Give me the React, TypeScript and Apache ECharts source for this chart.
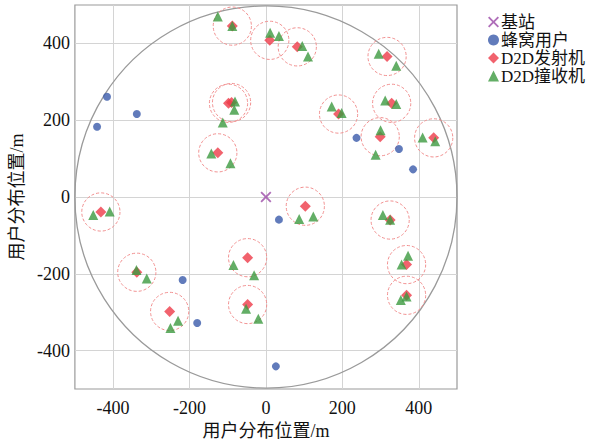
import React, { useEffect, useRef } from "react";
import * as echarts from "echarts";

const tickValues = [-400, -200, 0, 200, 400];
const baseStation = [[0, 0]];
const cellularUsers = [
  [-416, 261], [-338, 216], [-442, 183], [237, 154], [348, 125], [385, 72],
  [34, -59], [-218, -216], [-180, -328], [26, -441],
];
const d2dTx = [
  [-88, 445], [10, 408], [82, 391], [317, 366], [-98, 244], [-90, 246],
  [-126, 115], [190, 216], [329, 244], [299, 157], [439, 154], [-432, -39],
  [103, -24], [325, -60], [-338, -196], [-48, -158], [368, -176], [-252, -298],
  [-48, -280], [368, -256],
];
const d2dRx = [
  [-126, 470], [-88, 445], [11, 428], [34, 419], [95, 393], [110, 366],
  [295, 373], [341, 342], [-81, 249], [-83, 227], [-113, 194], [-143, 113],
  [-93, 88], [172, 236], [198, 219], [312, 251], [341, 242], [300, 174],
  [287, 110], [410, 155], [443, 145], [-452, -47], [-409, -38], [87, -57],
  [124, -51], [306, -47], [325, -59], [-339, -190], [-312, -212], [-85, -177],
  [-31, -204], [372, -153], [355, -176], [-230, -322], [-250, -341], [-52, -291],
  [-20, -317], [353, -268], [368, -259],
];
const d2dRadius = 50;
const cellRadius = 500;

const FONT = '"Liberation Serif", "Times New Roman", "Noto Sans CJK SC", serif';
const X_PATH =
  "path://M0,1.2 L1.2,0 L5,3.8 L8.8,0 L10,1.2 L6.2,5 L10,8.8 L8.8,10 L5,6.2 L1.2,10 L0,8.8 L3.8,5 Z";

export default function App() {
  const ref = useRef<HTMLDivElement>(null);
  useEffect(() => {
    if (!ref.current) return;
    const chart = echarts.init(ref.current, null, { renderer: "svg" });
    const circleRender = (stroke: string, dash: number[] | null, lw: number) =>
      (params: any, api: any) => {
        const c = api.coord([api.value(0), api.value(1)]);
        const s = api.size([api.value(2), api.value(2)]);
        return {
          type: "circle",
          shape: { cx: c[0], cy: c[1], r: s[0] },
          style: { fill: "none", stroke, lineWidth: lw, lineDash: dash || undefined },
          silent: true,
        };
      };
    const axisCommon = {
      type: "value",
      min: -500,
      max: 500,
      axisLine: { show: false },
      axisTick: { show: false, customValues: tickValues },
      splitLine: { show: true, lineStyle: { color: "#d4d4d4", width: 1 } },
      nameTextStyle: { fontFamily: FONT, fontSize: 18, color: "#111" },
    };
    chart.setOption({
      animation: false,
      backgroundColor: "#fff",
      grid: {
        left: 68,
        right: 150,
        top: 5,
        bottom: 53,
        show: true,
        borderColor: "#9a9a9a",
        borderWidth: 1.2,
      },
      legend: {
        orient: "vertical",
        left: 483,
        top: 8,
        itemWidth: 11,
        itemHeight: 11,
        itemGap: 0,
        data: ["基站", "蜂窝用户", "D2D发射机", "D2D撞收机"],
        textStyle: {
          fontFamily: FONT,
          fontSize: 17,
          lineHeight: 18,
          color: "#111",
          padding: [0, 0, 0, -3],
        },
      },
      xAxis: {
        ...axisCommon,
        name: "用户分布位置/m",
        nameLocation: "middle",
        nameGap: 33,
        axisLabel: {
          customValues: tickValues,
          fontFamily: FONT,
          fontSize: 18,
          color: "#111",
          margin: 10,
        },
      },
      yAxis: {
        ...axisCommon,
        name: "用户分布位置/m",
        nameLocation: "middle",
        nameGap: 30,
        axisLabel: {
          customValues: tickValues,
          fontFamily: FONT,
          fontSize: 18,
          color: "#111",
          margin: 5,
        },
      },
      series: [
        {
          type: "custom",
          name: "小区",
          data: [[0, 0, cellRadius]],
          renderItem: circleRender("#9a9a9a", null, 1.3),
          z: 1,
          silent: true,
        },
        {
          type: "custom",
          name: "D2D范围",
          data: d2dTx.map((p) => [p[0], p[1], d2dRadius]),
          renderItem: circleRender("#f29090", [3, 2], 1),
          z: 2,
          silent: true,
        },
        {
          type: "scatter",
          name: "基站",
          data: baseStation,
          symbol: X_PATH,
          symbolSize: 11,
          itemStyle: { color: "#9b4aa8" },
          z: 5,
        },
        {
          type: "scatter",
          name: "蜂窝用户",
          data: cellularUsers,
          symbol: "circle",
          symbolSize: 8,
          itemStyle: { color: "#3a5aaa" },
          z: 5,
        },
        {
          type: "scatter",
          name: "D2D发射机",
          data: d2dTx,
          symbol: "diamond",
          symbolSize: 11,
          itemStyle: { color: "#ee3b48" },
          z: 5,
        },
        {
          type: "scatter",
          name: "D2D撞收机",
          data: d2dRx,
          symbol: "triangle",
          symbolSize: 10,
          itemStyle: { color: "#3c9a40" },
          z: 6,
        },
      ],
    });
    return () => chart.dispose();
  }, []);
  return (
    <div
      ref={ref}
      style={{ position: "fixed", left: 0, top: 0, width: 607, height: 445, background: "#fff" }}
    />
  );
}
